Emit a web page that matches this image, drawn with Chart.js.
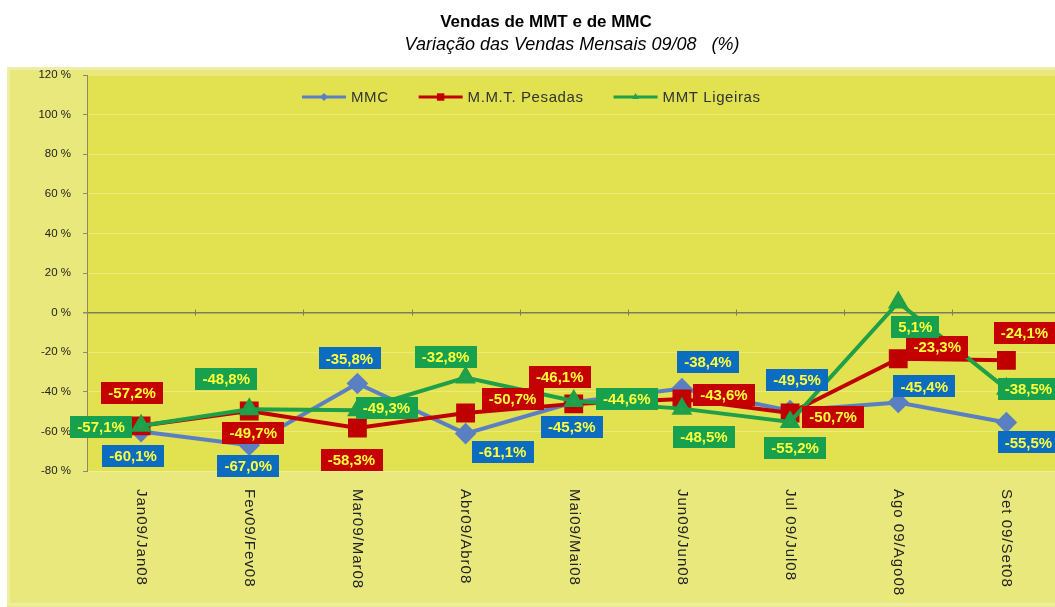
<!DOCTYPE html>
<html>
<head>
<meta charset="utf-8">
<script src="https://cdn.jsdelivr.net/npm/chart.js@4.4.0/dist/chart.umd.min.js"></script>
<style>
  html, body { margin: 0; padding: 0; background: #fff; overflow: hidden; }
  #wrap { position: relative; width: 1075px; height: 607px; }
</style>
</head>
<body>
<div id="wrap"><canvas id="chart" width="1075" height="607"></canvas></div>
<script>
// data
const categories = ['Jan09/Jan08', 'Fev09/Fev08', 'Mar09/Mar08', 'Abr09/Abr08', 'Mai09/Mai08',
  'Jun09/Jun08', 'Jul 09/Jul08', 'Ago 09/Ago08', 'Set 09/Set08']
const mmc = [-60.1, -67.0, -35.8, -61.1, -45.3, -38.4, -49.5, -45.4, -55.5]
const pesadas = [-57.2, -49.7, -58.3, -50.7, -46.1, -43.6, -50.7, -23.3, -24.1]
const ligeiras = [-57.1, -48.8, -49.3, -32.8, -44.6, -48.5, -55.2, 5.1, -38.5]
const seriesNames = ['MMC', 'M.M.T. Pesadas', 'MMT Ligeiras']
const yMin = -80
const yMax = 120
const yStep = 20

// where each value box sits relative to its point (style only)
const mmcLabelOffset = [[-8, 24], [-1, 21], [-8, -25], [37, 18], [-2, 25], [26, -27], [7, -31], [26, -16], [22, 20]]
const pesadasLabelOffset = [[-9, -33], [4, 22], [-6, 32], [47, -14], [-14, -27], [42, -4], [43, 4], [39, -12], [18, -27]]
const ligeirasLabelOffset = [[-40, 1], [-23, -30], [29, -2], [-20, -21], [53, -2], [22, 28], [5, 26], [17, 24], [22, 0]]

const FONT = '"Liberation Sans", Arial, sans-serif'
const fmt = v => v.toFixed(1).replace('.', ',') + '%'

// backgrounds
const backgroundPlugin = {
  id: 'backgrounds',
  beforeDraw (chart) {
    const { ctx, chartArea: a, width, height } = chart
    ctx.save()
    ctx.fillStyle = '#ffffff'
    ctx.fillRect(0, 0, width, height)
    ctx.fillStyle = '#e8e87c'
    ctx.fillRect(7, 67, width - 7, height - 67)
    ctx.strokeStyle = '#eeeea6'
    ctx.lineWidth = 3
    ctx.strokeRect(8.5, 68.5, width - 10, height - 71)
    ctx.fillStyle = '#e2e250'
    ctx.fillRect(a.left, a.top, a.right - a.left, a.bottom - a.top)
    ctx.restore()
  }
}

// value boxes
const valueBoxPlugin = {
  id: 'valueBoxes',
  afterDatasetsDraw (chart) {
    const { ctx } = chart
    const offsets = [mmcLabelOffset, pesadasLabelOffset, ligeirasLabelOffset]
    const boxColors = ['#0b6cc0', '#c40000', '#17a04e']
    ctx.save()
    ctx.font = 'bold 15px ' + FONT
    ctx.textAlign = 'center'
    ctx.textBaseline = 'middle'
    chart.data.datasets.forEach((ds, d) => {
      const meta = chart.getDatasetMeta(d)
      meta.data.forEach((pt, i) => {
        const txt = fmt(ds.data[i])
        const w = ctx.measureText(txt).width + 14
        const h = 22
        const cx = pt.x + offsets[d][i][0]
        const cy = pt.y + offsets[d][i][1]
        ctx.fillStyle = boxColors[d]
        ctx.fillRect(Math.round(cx - w / 2), Math.round(cy - h / 2), Math.round(w), h)
        ctx.fillStyle = '#ffff3c'
        ctx.fillText(txt, cx, cy + 1)
      })
    })
    ctx.restore()
  }
}

// titles, legend, rotated category labels, ticks on zero line
const decorPlugin = {
  id: 'decor',
  afterDraw (chart) {
    const { ctx, chartArea: a } = chart
    const xs = chart.scales.x
    const ys = chart.scales.y
    ctx.save()

    // tick marks on the 0% line
    const y0 = ys.getPixelForValue(0)
    ctx.strokeStyle = '#7c7c58'
    ctx.lineWidth = 1
    for (let i = 1; i < categories.length; i++) {
      const bx = Math.round((xs.getPixelForTick(i - 1) + xs.getPixelForTick(i)) / 2) + 0.5
      ctx.beginPath()
      ctx.moveTo(bx, y0 - 3)
      ctx.lineTo(bx, y0 + 3)
      ctx.stroke()
    }

    // titles
    ctx.fillStyle = '#000'
    ctx.textAlign = 'center'
    ctx.textBaseline = 'alphabetic'
    ctx.font = 'bold 17px ' + FONT
    ctx.fillText('Vendas de MMT e de MMC', 546, 27)
    ctx.font = 'italic 18px ' + FONT
    ctx.fillText('Variação das Vendas Mensais 09/08   (%)', 572, 50)

    // category labels, rotated clockwise
    ctx.fillStyle = '#222'
    ctx.font = '15px ' + FONT
    ctx.letterSpacing = '1px'
    ctx.textAlign = 'left'
    ctx.textBaseline = 'middle'
    categories.forEach((c, i) => {
      ctx.save()
      ctx.translate(xs.getPixelForTick(i), a.bottom + 18)
      ctx.rotate(Math.PI / 2)
      ctx.fillText(c, 0, 0)
      ctx.restore()
    })

    // legend inside the plot
    ctx.font = '15px ' + FONT
    ctx.letterSpacing = '0.6px'
    ctx.fillStyle = '#333'
    let lx = 302
    const ly = 97
    chart.data.datasets.forEach((ds) => {
      ctx.strokeStyle = ds.borderColor
      ctx.lineWidth = 3
      ctx.beginPath()
      ctx.moveTo(lx, ly)
      ctx.lineTo(lx + 44, ly)
      ctx.stroke()
      ctx.fillStyle = ds.backgroundColor
      Chart.helpers.drawPoint(ctx, {
        pointStyle: ds.pointStyle,
        radius: ds.pointRadius * 0.5,
        rotation: 0,
        borderWidth: 0
      }, lx + 22, ly)
      ctx.fillStyle = '#333'
      ctx.fillText(ds.label, lx + 49, ly + 1)
      lx += 49 + ctx.measureText(ds.label).width + 30
    })
    ctx.restore()
  }
}

new Chart(document.getElementById('chart'), {
  type: 'line',
  data: {
    labels: categories,
    datasets: [
      {
        label: seriesNames[0],
        data: mmc,
        borderColor: '#5a7fc2',
        backgroundColor: '#5a7fc2',
        borderWidth: 4,
        pointStyle: 'rectRot',
        pointRadius: 8,
        order: 2
      },
      {
        label: seriesNames[1],
        data: pesadas,
        borderColor: '#c00000',
        backgroundColor: '#c00000',
        borderWidth: 4,
        pointStyle: 'rect',
        pointRadius: 10.5,
        order: 1
      },
      {
        label: seriesNames[2],
        data: ligeiras,
        borderColor: '#1f9f48',
        backgroundColor: '#24a24e',
        borderWidth: 4,
        pointStyle: 'triangle',
        pointRadius: 8,
        order: 0
      }
    ]
  },
  options: {
    responsive: false,
    animation: false,
    devicePixelRatio: 1,
    layout: { padding: { left: 7, top: 75, right: 7, bottom: 0 } },
    elements: { line: { tension: 0 }, point: { borderWidth: 0, hoverRadius: 8 } },
    plugins: {
      legend: { display: false },
      title: { display: false },
      tooltip: { enabled: false }
    },
    scales: {
      x: {
        offset: true,
        grid: { display: false },
        border: { display: false },
        ticks: { display: false },
        afterFit (s) { s.height = 136 }
      },
      y: {
        min: yMin,
        max: yMax,
        afterFit (s) { s.width = 80 },
        border: { display: true, color: '#8c8c64', width: 1 },
        grid: {
          color: c => (c.tick.value === 0 ? '#7c7c58' : 'rgba(255,255,255,0.28)'),
          lineWidth: c => (c.tick.value === 0 ? 1.5 : 1),
          tickColor: '#8c8c64',
          tickLength: 4
        },
        ticks: {
          stepSize: yStep,
          padding: 12,
          color: '#222',
          font: { family: FONT, size: 11.5 },
          callback: v => v + ' %'
        }
      }
    }
  },
  plugins: [backgroundPlugin, valueBoxPlugin, decorPlugin]
})
</script>
</body>
</html>
